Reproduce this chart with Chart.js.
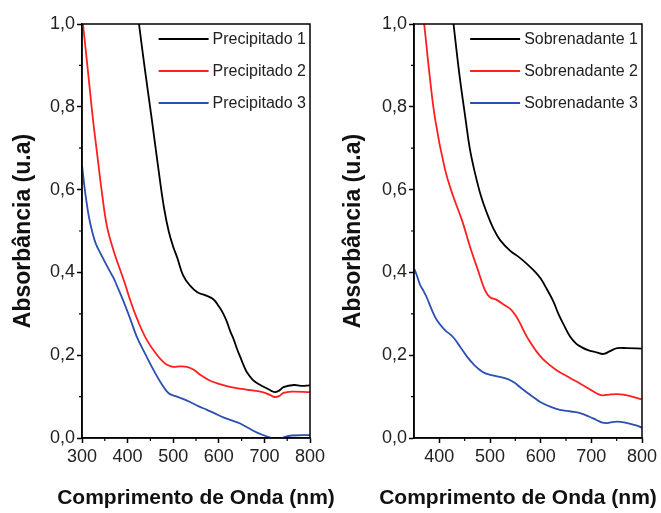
<!doctype html>
<html lang="pt-BR">
<head>
<meta charset="UTF-8">
<title>Absorbância - Precipitado e Sobrenadante</title>
<style>
  body { margin: 0; background: #fff; overflow: hidden; }
  .painel { position: absolute; top: 0; height: 513px; }
  #esq { left: 0; width: 345px; }
  #dir { left: 330px; width: 331px; }
</style>
</head>
<body>
<div class="painel" id="esq"><canvas id="graficoP" width="345" height="513"></canvas></div>
<div class="painel" id="dir"><canvas id="graficoS" width="331" height="513"></canvas></div>

<script src="https://cdn.jsdelivr.net/npm/chart.js"></script>
<script>
  // Dados (comprimento de onda em nm, absorbância em u.a)
  var p1Onda = [418, 425, 438, 453, 470, 480, 490, 500, 509, 522, 537, 553, 570, 588, 600, 610, 618, 625, 632, 640, 647, 655, 662, 675, 691, 705, 715, 724, 733, 742, 765, 780, 800];
  var p1Abs  = [1.06, 1.00, 0.89, 0.77, 0.63, 0.555, 0.50, 0.462, 0.435, 0.392, 0.368, 0.352, 0.345, 0.335, 0.318, 0.30, 0.28, 0.258, 0.24, 0.215, 0.196, 0.174, 0.158, 0.14, 0.128, 0.12, 0.114, 0.111, 0.115, 0.123, 0.128, 0.126, 0.127];

  var p2Onda = [300, 305, 315, 324, 335, 344, 355, 370, 384, 395, 405, 420, 442, 465, 480, 490, 500, 515, 530, 545, 560, 580, 600, 630, 660, 696, 712, 722, 732, 742, 760, 800];
  var p2Abs  = [1.02, 0.97, 0.865, 0.77, 0.67, 0.59, 0.51, 0.45, 0.405, 0.37, 0.335, 0.29, 0.237, 0.20, 0.182, 0.175, 0.172, 0.173, 0.172, 0.165, 0.152, 0.139, 0.131, 0.122, 0.117, 0.111, 0.104, 0.099, 0.101, 0.109, 0.112, 0.111];

  var p3Onda = [300, 304, 308, 315, 322, 330, 340, 355, 365, 370, 375, 390, 405, 420, 440, 457, 475, 490, 505, 520, 537, 555, 574, 590, 610, 630, 647, 665, 684, 700, 715, 725, 735, 745, 760, 800];
  var p3Abs  = [0.66, 0.62, 0.585, 0.535, 0.50, 0.47, 0.447, 0.415, 0.395, 0.385, 0.372, 0.333, 0.29, 0.245, 0.20, 0.164, 0.13, 0.108, 0.101, 0.095, 0.087, 0.077, 0.068, 0.06, 0.05, 0.042, 0.035, 0.024, 0.013, 0.006, 0.0, -0.004, -0.002, 0.003, 0.006, 0.007];

  var s1Onda = [420, 428, 439, 452, 460, 469, 482, 494, 507, 520, 540, 559, 575, 590, 600, 612, 625, 635, 645, 658, 670, 680, 692, 710, 724, 737, 751, 770, 800];
  var s1Abs  = [1.085, 1.00, 0.884, 0.768, 0.70, 0.647, 0.585, 0.543, 0.505, 0.478, 0.452, 0.435, 0.418, 0.40, 0.385, 0.36, 0.33, 0.30, 0.275, 0.245, 0.228, 0.22, 0.213, 0.207, 0.203, 0.21, 0.217, 0.217, 0.216];

  var s2Onda = [366, 370, 380, 392, 411, 427, 445, 461, 475, 490, 500, 514, 530, 540, 550, 559, 567, 575, 590, 605, 630, 658, 680, 698, 710, 722, 735, 751, 775, 800];
  var s2Abs  = [1.03, 1.00, 0.885, 0.768, 0.65, 0.585, 0.525, 0.46, 0.41, 0.357, 0.34, 0.333, 0.32, 0.312, 0.297, 0.278, 0.258, 0.24, 0.212, 0.19, 0.165, 0.145, 0.13, 0.117, 0.108, 0.103, 0.105, 0.106, 0.102, 0.093];

  var s3Onda = [350, 355, 362, 368, 375, 385, 395, 410, 427, 440, 455, 470, 485, 494, 510, 534, 550, 559, 575, 590, 599, 620, 638, 660, 678, 695, 711, 722, 731, 745, 757, 775, 790, 800];
  var s3Abs  = [0.41, 0.395, 0.37, 0.357, 0.34, 0.31, 0.285, 0.262, 0.244, 0.222, 0.196, 0.175, 0.16, 0.155, 0.15, 0.143, 0.132, 0.123, 0.108, 0.095, 0.087, 0.075, 0.068, 0.064, 0.06, 0.052, 0.043, 0.037, 0.036, 0.039, 0.039, 0.035, 0.03, 0.025];

  var nomesP = ['Precipitado 1', 'Precipitado 2', 'Precipitado 3'];
  var nomesS = ['Sobrenadante 1', 'Sobrenadante 2', 'Sobrenadante 3'];
  var cores = ['#000000', '#ff1f1f', '#2b4fb3'];
  var ticksY = [0, 0.2, 0.4, 0.6, 0.8, 1.0];

  var fonte = "'Liberation Sans', Arial, sans-serif";

  // moldura, ticks menores, legenda e título do eixo x
  var extras = {
    id: 'extras',
    afterDatasetsDraw: function (chart, args, opts) {
      var ctx = chart.ctx, a = chart.chartArea, x = chart.scales.x, y = chart.scales.y;
      ctx.save();
      ctx.strokeStyle = '#000';
      ctx.lineWidth = 1.5;
      ctx.strokeRect(a.left, a.top, a.right - a.left, a.bottom - a.top);

      ctx.lineWidth = 1.2;
      ctx.beginPath();
      for (var v = opts.menorX; v < x.max; v += 100) {
        var px = x.getPixelForValue(v);
        ctx.moveTo(px, a.bottom); ctx.lineTo(px, a.bottom + 3);
      }
      for (var w = 0.1; w < 1; w += 0.2) {
        var py = y.getPixelForValue(w);
        ctx.moveTo(a.left, py); ctx.lineTo(a.left - 3, py);
      }
      ctx.stroke();

      // legenda
      ctx.font = '16px ' + fonte;
      ctx.textBaseline = 'middle';
      ctx.textAlign = 'left';
      var larg = 0;
      chart.data.datasets.forEach(function (d) { larg = Math.max(larg, ctx.measureText(d.label).width); });
      var tx = a.right - larg - 4;
      chart.data.datasets.forEach(function (d, i) {
        var ly = a.top + 15 + i * 32;
        ctx.strokeStyle = d.borderColor;
        ctx.lineWidth = 2;
        ctx.beginPath();
        ctx.moveTo(tx - 54, ly); ctx.lineTo(tx - 4, ly);
        ctx.stroke();
        ctx.fillStyle = '#222';
        ctx.fillText(d.label, tx, ly + 1);
      });

      // título do eixo x
      ctx.font = 'bold 21px ' + fonte;
      ctx.textAlign = 'center';
      ctx.fillStyle = '#111';
      ctx.fillText('Comprimento de Onda (nm)', (a.left + a.right) / 2 + opts.desvio, 498);
      ctx.restore();
    }
  };

  function montarSeries(ondas, absorb, nomes) {
    return ondas.map(function (o, k) {
      return {
        label: nomes[k],
        data: o.map(function (v, i) { return { x: v, y: absorb[k][i] }; }),
        borderColor: cores[k],
        borderWidth: 1.8,
        pointRadius: 0,
        tension: 0.4,
        fill: false
      };
    });
  }

  function criarGrafico(id, series, xMin, larguraY, folgaDir, menorX, desvio) {
    return new Chart(document.getElementById(id), {
      type: 'line',
      data: { datasets: series },
      options: {
        responsive: false,
        animation: false,
        layout: { padding: { top: 24, right: folgaDir, left: 0, bottom: 0 } },
        plugins: {
          legend: { display: false },
          tooltip: { enabled: false },
          extras: { menorX: menorX, desvio: desvio }
        },
        scales: {
          x: {
            type: 'linear', min: xMin, max: 800,
            afterFit: function (s) { s.height = 75; },
            ticks: { stepSize: 100, includeBounds: false, color: '#222', font: { size: 18, family: fonte }, padding: 3, maxRotation: 0 },
            grid: { drawOnChartArea: false, tickLength: 5, tickColor: '#000', tickWidth: 1.5 },
            border: { color: '#000', width: 1.5 }
          },
          y: {
            min: 0, max: 1,
            afterFit: function (s) { s.width = larguraY; },
            afterBuildTicks: function (s) { s.ticks = ticksY.map(function (v) { return { value: v }; }); },
            ticks: {
              color: '#222', font: { size: 18, family: fonte }, padding: 2,
              callback: function (v) { return v.toFixed(1).replace('.', ','); }
            },
            grid: { drawOnChartArea: false, tickLength: 5, tickColor: '#000', tickWidth: 1.5 },
            border: { color: '#000', width: 1.5 },
            title: { display: true, text: 'Absorbância (u.a)', color: '#111', font: { size: 23, weight: 'bold', family: fonte }, padding: { top: 10, bottom: 0 } }
          }
        }
      },
      plugins: [extras]
    });
  }

  criarGrafico('graficoP', montarSeries([p1Onda, p2Onda, p3Onda], [p1Abs, p2Abs, p3Abs], nomesP), 300, 82, 35, 350, 0);
  criarGrafico('graficoS', montarSeries([s1Onda, s2Onda, s3Onda], [s1Abs, s2Abs, s3Abs], nomesS), 350, 84, 19, 450, -10);
</script>
</body>
</html>
